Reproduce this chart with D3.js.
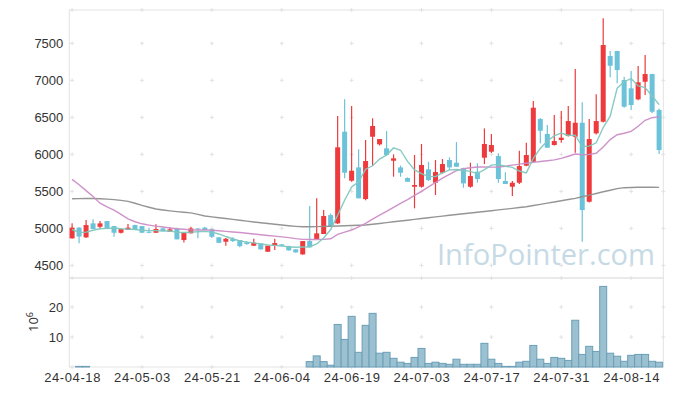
<!DOCTYPE html>
<html>
<head>
<meta charset="utf-8">
<title>Candles</title>
<script src="https://d3js.org/d3.v7.min.js"></script>
<style>
  body { margin: 0; background: #fff; }
  svg { display: block; font-family: "Noto Sans", sans-serif; }
  .tick text { fill: #333; font-size: 13px; }
</style>
</head>
<body>
<script>
// trading days (yy-mm-dd)
const dates = ["24-04-18","24-04-19","24-04-22","24-04-23","24-04-24","24-04-25","24-04-26","24-04-29","24-04-30","24-05-02",
  "24-05-03","24-05-07","24-05-08","24-05-09","24-05-10","24-05-13","24-05-14","24-05-16","24-05-17","24-05-20",
  "24-05-21","24-05-22","24-05-23","24-05-24","24-05-27","24-05-28","24-05-29","24-05-30","24-05-31","24-06-03",
  "24-06-04","24-06-05","24-06-07","24-06-10","24-06-11","24-06-12","24-06-13","24-06-14","24-06-17","24-06-18",
  "24-06-19","24-06-20","24-06-21","24-06-24","24-06-25","24-06-26","24-06-27","24-06-28","24-07-01","24-07-02",
  "24-07-03","24-07-04","24-07-05","24-07-08","24-07-09","24-07-10","24-07-11","24-07-12","24-07-15","24-07-16",
  "24-07-17","24-07-18","24-07-19","24-07-22","24-07-23","24-07-24","24-07-25","24-07-26","24-07-29","24-07-30",
  "24-07-31","24-08-01","24-08-02","24-08-05","24-08-06","24-08-07","24-08-08","24-08-09","24-08-12","24-08-13",
  "24-08-14","24-08-16","24-08-19","24-08-20","24-08-21"];

const open  = [4866,5010,4879,5068,5022,5099,5031,4941,4982,5045, 5031,4955,4941,5000,4955,5000,4843,4933,5000,5010,
  4987,4879,4820,4856,4843,4811,4766,4798,4685,4766, 4785,4761,4717,4649,4829,4856,4924,5180,5068,6306,
  5644,5824,5396,6238,6135,6081,5914,5824,5680,5563, 5563,5797,5617,5752,5923,5887,5811,5563,5766,5955,
  6036,5977,5640,5563,5617,5847,5900,6477,6275,6126, 6194,6248,6238,6427,5360,6284,6441,7328,7396,7004,
  6892,6743,6981,7085,6599];
const high  = [5068,5015,5113,5122,5099,5099,5031,5000,5059,5050, 5031,5010,5055,5015,5020,5010,4941,5022,5000,5022,
  4995,4885,4870,4880,4843,4830,4860,4798,4766,4860, 4790,4765,4720,4829,5302,5406,5250,5200,6518,6743,
  6653,6068,6194,6487,6207,6315,6000,5850,5690,5991, 6140,5900,5923,5937,5960,6166,5820,5887,5880,6351,
  6275,6014,5757,5640,6050,6157,6720,6490,6396,6531, 6585,6653,7153,6703,6477,6811,7838,7396,7400,7050,
  7126,7193,7342,7090,6620];
const low   = [4860,4798,4870,4991,5000,4991,4887,4930,4978,4980, 4941,4935,4941,4960,4955,4852,4811,4933,4866,4978,
  4870,4800,4766,4815,4744,4780,4766,4710,4680,4707, 4760,4700,4670,4645,4744,4845,4924,5022,5060,5676,
  5630,5406,5380,5842,6120,5991,5698,5698,5630,5271, 5550,5640,5451,5740,5790,5833,5549,5550,5617,5869,
  6020,5617,5599,5437,5600,5840,5890,6149,6090,6120, 6157,6240,6022,4820,5350,6270,6430,7040,6960,6630,
  6599,6730,6801,6554,6005];
const close = [5010,4890,5045,4991,5068,4991,4941,4991,5010,4987, 4941,4941,4991,4964,4987,4852,4941,5000,4987,4978,
  4887,4806,4860,4829,4761,4788,4806,4717,4766,4802, 4766,4703,4676,4829,4744,4933,5167,5022,6095,5752,
  5779,5406,5910,6383,6207,5991,5946,5752,5630,5586, 5856,5653,5761,5869,5824,5833,5608,5707,5667,6140,
  6126,5667,5599,5617,5842,5991,6630,6319,6090,6180, 6225,6450,6427,5248,6207,6450,7477,7197,7139,6644,
  6666,6973,7085,6576,6059];
// volume, millions of shares
const volume = [0,0.2,0.2,0,0,0,0,0,0,0, 0,0,0,0,0,0,0,0,0,0,
  0,0,0,0,0,0,0,0,0,0, 0,0,0,0,1.8,3.7,1.8,0.6,14.2,9.2,
  16.9,4.9,13.9,17.9,4.6,4.9,2.9,1.6,1.2,3.2, 6.2,1.2,1.6,1.2,0.9,2.6,0.9,0.9,0.9,7.9,
  2.6,1.2,0.2,0.2,1.6,1.9,7.2,2.6,1.2,3.2, 2.9,2.2,15.6,4.2,6.9,5.2,26.9,4.6,3.6,1.9,
  3.9,4.2,4.2,1.9,1.6];
// moving averages as drawn
const ma5 = [4985,4945,4950,4975,4995,5000,5005,4995,4990,4985, 4975,4970,4970,4965,4965,4950,4945,4950,4955,4960,
  4950,4925,4890,4860,4830,4815,4805,4790,4775,4770, 4762,4752,4745,4748,4752,4790,4870,4985,5180,5380,
  5560,5630,5800,5846,5937,5990,6087,6056,5905,5790, 5740,5700,5700,5750,5790,5795,5785,5770,5740,5795,
  5855,5865,5840,5825,5775,5750,5945,6080,6180,6250, 6289,6255,6260,6106,6111,6156,6362,6516,6894,6981,
  7025,6924,6901,6789,6672];
const ma20 = [5662,5590,5510,5430,5340,5290,5248,5190,5130,5090, 5062,5045,5030,5018,5005,4995,4988,4980,4978,4980,
  4975,4968,4960,4952,4944,4935,4925,4915,4905,4895, 4885,4875,4862,4852,4850,4850,4852,4860,4920,4950,
  4978,5020,5068,5125,5180,5230,5285,5338,5390,5445, 5500,5560,5620,5680,5730,5780,5805,5820,5830,5830,
  5828,5830,5840,5855,5868,5880,5892,5903,5914,5925, 5945,5975,6005,5995,6000,6015,6100,6200,6265,6285,
  6310,6380,6460,6495,6509];
const ma60 = [5400,5402,5403,5403,5400,5395,5388,5378,5365,5340, 5310,5285,5262,5248,5236,5226,5218,5210,5190,5168,
  5155,5144,5133,5122,5110,5098,5087,5076,5066,5056, 5046,5036,5028,5022,5022,5024,5027,5030,5033,5036,
  5039,5042,5045,5056,5067,5078,5089,5100,5111,5122, 5133,5144,5155,5166,5177,5188,5198,5208,5218,5228,
  5239,5250,5260,5271,5282,5293,5309,5325,5341,5357, 5373,5390,5406,5428,5450,5472,5495,5516,5537,5550,
  5553,5555,5556,5555,5554];

const priceTicks = [4500,5000,5500,6000,6500,7000,7500];
const volTicks = [10,20];
const dateTicks = [0,10,20,30,40,50,60,70,80];

const W = 673, H = 396;
const L = 69.3, R = 663.3, T = 10, MID = 278, B = 367;

const svg = d3.select("body").append("svg").attr("width", W).attr("height", H);

const x = d3.scaleLinear().domain([-0.4, 84.6]).range([L, R]);
const y = d3.scaleLinear().domain([4330, 7950]).range([MID, T]);
const yv = d3.scaleLinear().domain([0, 29.7]).range([B, MID]);
const idx = d3.range(dates.length);

// watermark
svg.append("text")
  .attr("x", 437).attr("y", 265)
  .attr("textLength", 218).attr("lengthAdjust", "spacingAndGlyphs")
  .style("font-family", "'Open Sans', sans-serif")
  .style("font-size", "30px")
  .attr("fill", "#c6dae5")
  .text("InfoPointer.com");

// panel frames
svg.append("rect").attr("x", L).attr("y", T).attr("width", R - L).attr("height", MID - T)
  .attr("fill", "none").attr("stroke", "#e3e3e3");
svg.append("rect").attr("x", L).attr("y", MID).attr("width", R - L).attr("height", B - MID)
  .attr("fill", "none").attr("stroke", "#e3e3e3");

// grid crosses
const crossY = priceTicks.map(y).concat([T, MID], volTicks.map(yv), [B]);
const crosses = [];
dateTicks.forEach(i => crossY.forEach(cy => crosses.push([x(i), cy])));
priceTicks.forEach(p => crosses.push([R, y(p)]));
volTicks.forEach(v => crosses.push([R, yv(v)]));
svg.append("g").selectAll("path").data(crosses).join("path")
  .attr("d", d => `M${d[0]-2},${d[1]}h4M${d[0]},${d[1]-2}v4`)
  .attr("stroke", "#e2e2e2").attr("stroke-width", 1).attr("fill", "none");

// axes
const yAxis = svg.append("g").attr("transform", `translate(${L},0)`)
  .call(d3.axisLeft(y).tickValues(priceTicks).tickFormat(d3.format("d")).tickSize(0).tickPadding(6));
const vAxis = svg.append("g").attr("transform", `translate(${L},0)`)
  .call(d3.axisLeft(yv).tickValues(volTicks).tickFormat(d3.format("d")).tickSize(0).tickPadding(6));
const xAxis = svg.append("g").attr("transform", `translate(0,${B})`)
  .call(d3.axisBottom(x).tickValues(dateTicks).tickFormat(i => dates[i]).tickSize(0).tickPadding(6));
[yAxis, vAxis, xAxis].forEach(g => g.select(".domain").remove());
xAxis.selectAll(".tick text").attr("letter-spacing", "0.6px");

// 10^6 label
const lab = svg.append("text")
  .attr("transform", "translate(38,332) rotate(-90)")
  .attr("fill", "#333").style("font-size", "13px");
lab.append("tspan").text("10");
lab.append("tspan").attr("dy", -5).style("font-size", "9px").text("6");

// volume bars
svg.append("g").selectAll("rect").data(idx.filter(i => volume[i] > 0)).join("rect")
  .attr("x", i => x(i) - 3.5)
  .attr("y", i => yv(volume[i]))
  .attr("width", 7)
  .attr("height", i => B - yv(volume[i]))
  .attr("fill", "#9bc0d0")
  .attr("stroke", "#6b9fb8")
  .attr("stroke-width", 1);

// candles
const up = "#ee3a3c", down = "#6cc2d8";
const cg = svg.append("g").selectAll("g").data(idx).join("g");
cg.append("line")
  .attr("x1", i => x(i)).attr("x2", i => x(i))
  .attr("y1", i => y(high[i])).attr("y2", i => y(low[i]))
  .attr("stroke", i => close[i] >= open[i] ? up : down)
  .attr("stroke-width", 1.2);
cg.append("rect")
  .attr("x", i => x(i) - 2.5)
  .attr("y", i => y(Math.max(open[i], close[i])))
  .attr("width", 5)
  .attr("height", i => Math.max(1, Math.abs(y(open[i]) - y(close[i]))))
  .attr("fill", i => close[i] >= open[i] ? up : down);

// moving averages
const line = d3.line().x((d, i) => x(i)).y(d => y(d));
[[ma60, "#8f8f8f"], [ma20, "#cc8cc6"], [ma5, "#80c8bf"]].forEach(([arr, c]) => {
  svg.append("path").datum(arr).attr("d", line)
    .attr("fill", "none").attr("stroke", c).attr("stroke-width", 1.4).attr("opacity", 0.95);
});
</script>
</body>
</html>
